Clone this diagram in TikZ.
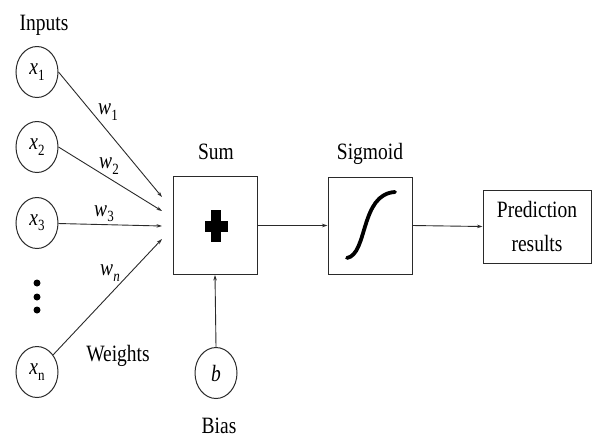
\documentclass[tikz,border=0pt]{standalone}
\usepackage{fontspec}
\setmainfont{Liberation Serif}
\usetikzlibrary{arrows.meta,shapes.geometric}
\newcommand\vs[1]{\scalebox{1}[1.2]{#1}}
\newcommand\subx[2]{\vs{\textit{#1}\raisebox{-0.5ex}{\fontsize{13}{13}\selectfont #2}}}
\definecolor{lc}{HTML}{2A2A2A}
\begin{document}
\begin{tikzpicture}[x=1pt,y=-1pt,
  font=\fontsize{19.5}{22}\selectfont,
  inp/.style={draw=lc, line width=1pt, ellipse, inner sep=0pt, minimum width=42pt, minimum height=51pt},
  boxn/.style={draw=lc, line width=1pt, rectangle, inner sep=0pt},
  con/.style={draw=lc, line width=0.9pt, -{Stealth[length=5.5pt,width=3.5pt]}},
  lab/.style={inner sep=0pt, text=black}]
\useasboundingbox (0,0) rectangle (593,437);
% input nodes
\node[inp] (x1) at (37,72)  {\subx{x}{1}};
\node[inp] (x2) at (37,147) {\subx{x}{2}};
\node[inp] (x3) at (37,223) {\subx{x}{3}};
\node[inp] (xn) at (37,372) {\subx{x}{n}};
\node[inp] (b)  at (216,373) {\vs{\textit{b}}};
% boxes
\node[boxn, minimum width=84pt, minimum height=98pt] (sum) at (215,225.5) {};
\node[boxn, minimum width=84pt, minimum height=97pt] (sig) at (370,225.5) {};
\node[boxn, minimum width=108pt, minimum height=73pt, align=center,
      font=\fontsize{19.5}{34}\selectfont] (pred) at (537,226.5) {\vs{Prediction}\\\vs{results}};
% labels
\node[lab, anchor=base] (inputs) at (44,30) {\vs{Inputs}};
\node[lab, anchor=base] (sumlab) at (216,159) {\vs{Sum}};
\node[lab, anchor=base] (siglab) at (370,159) {\vs{Sigmoid}};
\node[lab, anchor=base] (weights) at (118,361) {\vs{Weights}};
\node[lab, anchor=base] (bias) at (219,433) {\vs{Bias}};
\node[lab] (w1) at (108,112) {\subx{w}{1}};
\node[lab] (w2) at (109,166) {\subx{w}{2}};
\node[lab] (w3) at (104,214) {\subx{w}{3}};
\node[lab] (wn) at (110,273) {\subx{w}{\textit{n}}};
% arrow targets
\coordinate (t1) at (162,197);
\coordinate (t2) at (162,211);
\coordinate (t3) at (162,226);
\coordinate (t4) at (162,239);
% connectors
\draw[con] (x1.east) -- (t1);
\draw[con] (x2.east) -- (t2);
\draw[con] (x3) -- (t3);
\draw[con] (xn) -- (t4);
\draw[con] (b.north) -- (sum.south);
\draw[con] (sum.east) -- (sig.west);
\draw[con] (sig.east) -- (pred.west);
% dots
\fill[black] (37,283) circle (3.5);
\fill[black] (37,297) circle (3.5);
\fill[black] (37,310) circle (3.5);
% plus sign
\fill[black] (211,210) rectangle (221,242);
\fill[black] (204.5,220.5) rectangle (227.5,231.5);
% sigmoid curve
\draw[black, line width=3.8pt, line cap=round] (347,258) .. controls (368,254) and (360,194) .. (395,192);
\end{tikzpicture}
\end{document}
